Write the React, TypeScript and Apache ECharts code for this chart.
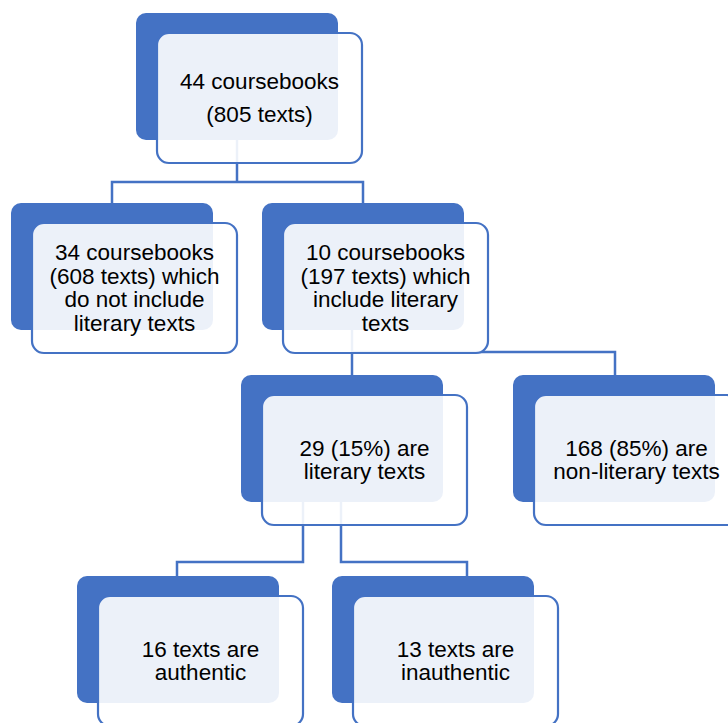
import React, { useEffect, useRef } from "react";
import * as echarts from "echarts";

// ---- data (texts of the hierarchy) ----
const nodeIds = ["root", "noLit", "withLit", "lit", "nonLit", "auth", "inauth"];
const nodeLabels = [
  "44 coursebooks\n(805 texts)",
  "34 coursebooks\n(608 texts) which\ndo not include\nliterary texts",
  "10 coursebooks\n(197 texts) which\ninclude literary\ntexts",
  "29 (15%) are\nliterary texts",
  "168 (85%) are\nnon-literary texts",
  "16 texts are\nauthentic",
  "13 texts are\ninauthentic",
];
const parentOf = [null, "root", "root", "withLit", "withLit", "lit", "lit"];

// ---- layout (positions of each node's back card, top-left) ----
const layout: Record<string, [number, number]> = {
  root: [136, 13],
  noLit: [11, 203],
  withLit: [262, 203],
  lit: [241, 375],
  nonLit: [513, 375],
  auth: [77, 576],
  inauth: [332, 576],
};
const BACK_W = 202;
const BACK_H = 127;
const FRONT_DX = 21;
const FRONT_DY = 20;
const FRONT_W = 205;
const FRONT_H = 130;
const BLUE = "#4472C4";

// connectors (elbow lines), drawn behind the cards
const connectors: number[][][] = [
  [[237, 140], [237, 182]],
  [[112, 203], [112, 182], [363, 182], [363, 203]],
  [[352, 330], [352, 375]],
  [[352, 352], [615, 352], [615, 375]],
  [[303, 502], [303, 562], [177, 562], [177, 576]],
  [[341, 502], [341, 562], [467, 562], [467, 576]],
];

export default function App() {
  const ref = useRef<HTMLDivElement>(null);
  useEffect(() => {
    document.body.style.margin = "0";
    const chart = echarts.init(ref.current!, undefined, { renderer: "svg" });
    const elements: any[] = [];
    connectors.forEach((pts) => {
      elements.push({
        type: "polyline",
        shape: { points: pts },
        style: { stroke: BLUE, lineWidth: 2.5, fill: null },
        z: 1,
      });
    });
    nodeIds.forEach((id, i) => {
      const [bx, by] = layout[id];
      const fx = bx + FRONT_DX;
      const fy = by + FRONT_DY;
      elements.push({
        type: "rect",
        shape: { x: bx, y: by, width: BACK_W, height: BACK_H, r: 10 },
        style: { fill: BLUE },
        z: 2,
      });
      elements.push({
        type: "rect",
        shape: { x: fx, y: fy, width: FRONT_W, height: FRONT_H, r: 12 },
        style: { fill: "rgba(255,255,255,0.9)", stroke: BLUE, lineWidth: 2.2 },
        z: 3,
      });
      elements.push({
        type: "text",
        x: fx + FRONT_W / 2,
        y: fy + FRONT_H / 2,
        style: {
          text: nodeLabels[i],
          fill: "#000",
          font: '22.5px "Liberation Sans", Arial, sans-serif',
          align: "center",
          verticalAlign: "middle",
          lineHeight: i === 0 ? 33 : 23.5,
        },
        z: 4,
      });
    });
    chart.setOption({
      animation: false,
      backgroundColor: "#ffffff",
      graphic: { elements },
    });
    return () => chart.dispose();
  }, []);
  return (
    <div
      ref={ref}
      style={{ position: "fixed", left: 0, top: 0, width: 728, height: 723 }}
    />
  );
}
